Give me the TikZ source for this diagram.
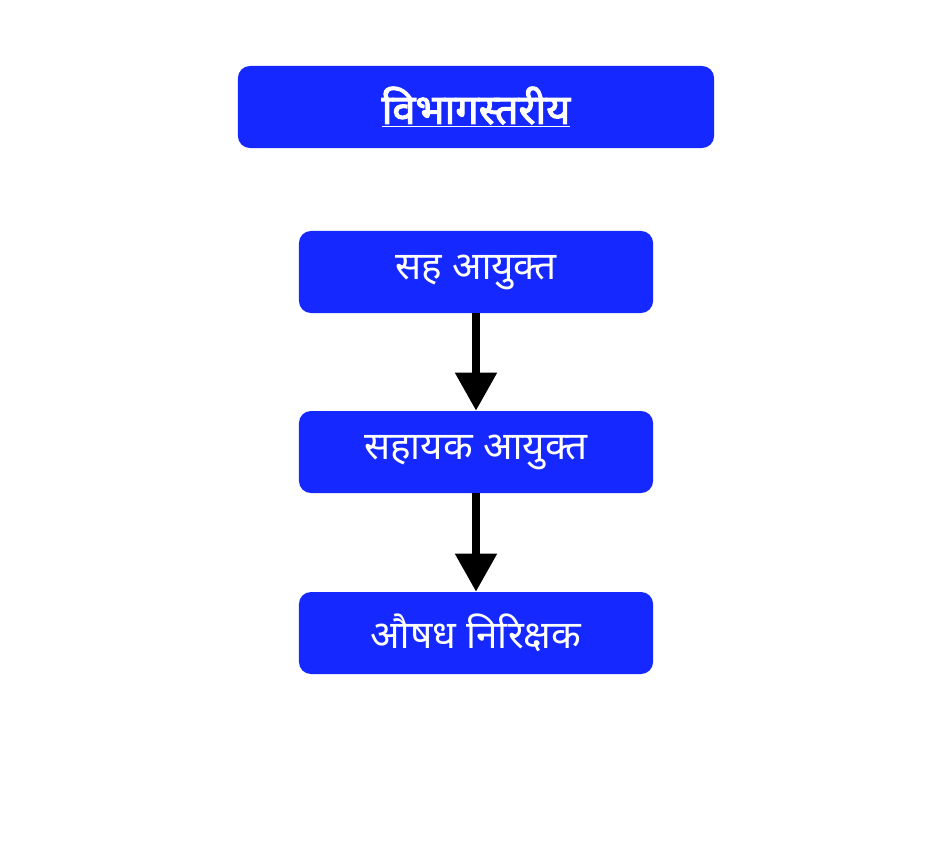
\documentclass[tikz,border=0pt]{standalone}
\usepackage{fontspec}
\newfontfamily\hindi[Script=Devanagari]{Noto Sans}
\newfontfamily\hindibold[Script=Devanagari, FakeBold=2.5]{Noto Sans}
\usepackage{tikz}
\usetikzlibrary{arrows.meta}
\definecolor{boxblue}{RGB}{20,40,255}
\tikzset{post/.style = {fill=boxblue, text=white, rounded corners=0.3cm, minimum width=8.85cm, minimum height=2.05cm, font=\hindi\fontsize{27.5}{32}\selectfont}}
\tikzset{arrow/.style = {line width=0.2cm, -{Triangle[length=0.95cm, width=1cm]}}}

\begin{document}
\begin{tikzpicture}[x=0.025cm, y=-0.025cm]
	\useasboundingbox (0,0) rectangle (944,851);
	\node[post, minimum width=11.9cm, font=\hindibold\fontsize{29.5}{34}\selectfont] (level) at (476,107) {\underline{विभागस्तरीय}};
	\node[post] (jointcomm) at (476,272) {सह आयुक्त};
	\node[post] (asstcomm) at (476,452) {सहायक आयुक्त};
	\node[post] (inspector) at (476,633) {औषध निरिक्षक};
	\draw [arrow] (jointcomm) -- (asstcomm);
	\draw [arrow] (asstcomm) -- (inspector);
\end{tikzpicture}
\end{document}
